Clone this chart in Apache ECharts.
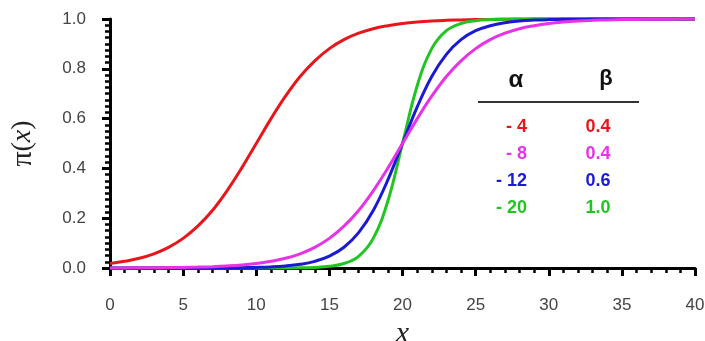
<!DOCTYPE html>
<html>
<head>
<meta charset="utf-8">
<script src="https://cdn.jsdelivr.net/npm/echarts@6/dist/echarts.min.js"></script>
<style>html,body{margin:0;padding:0;background:#fff}#c{width:705px;height:341px}</style>
</head>
<body>
<div id="c"></div>
<script>
var xValues = [0,1,2,3,4,5,6,7,8,9,10,11,12,13,14,15,16,17,18,19,20,21,22,23,24,25,26,27,28,29,30,31,32,33,34,35,36,37,38,39,40];
var redValues = [0.018,0.027,0.039,0.057,0.083,0.119,0.168,0.231,0.310,0.401,0.5,0.599,0.690,0.769,0.832,0.881,0.917,0.943,0.961,0.973,0.982,0.988,0.992,0.9945,0.9963,0.9975,0.9983,0.9989,0.9992,0.9995,0.9997,0.9998,0.9999,0.9999,1,1,1,1,1,1,1];
var magentaValues = [0.0003,0.0005,0.0007,0.0011,0.0017,0.0025,0.0037,0.0055,0.0082,0.012,0.018,0.027,0.039,0.057,0.083,0.119,0.168,0.231,0.310,0.401,0.5,0.599,0.690,0.769,0.832,0.881,0.917,0.943,0.961,0.973,0.982,0.988,0.992,0.9945,0.9963,0.9975,0.9983,0.9989,0.9992,0.9995,0.9997];
var blueValues = [0,0,0,0,0,0.0001,0.0002,0.0004,0.0007,0.0014,0.0025,0.0045,0.0082,0.0148,0.0266,0.0474,0.0832,0.142,0.231,0.354,0.5,0.646,0.769,0.858,0.917,0.953,0.973,0.985,0.992,0.9955,0.9975,0.9986,0.9993,0.9996,0.9998,0.9999,1,1,1,1,1];
var greenValues = [0,0,0,0,0,0,0,0,0,0,0,0.0001,0.0003,0.0009,0.0025,0.0067,0.018,0.047,0.119,0.269,0.5,0.731,0.881,0.953,0.982,0.9933,0.9975,0.9991,0.9997,0.9999,1,1,1,1,1,1,1,1,1,1,1];
var tableAlpha = ['- 4','- 8','- 12','- 20'];
var tableBeta = ['0.4','0.4','0.6','1.0'];
var colors = ['#e8161b','#e633e6','#1a1ad6','#22c422'];

function pairs(v){ return xValues.map(function(x,i){ return [x, v[i]]; }); }

var chart = echarts.init(document.getElementById('c'), null, {renderer:'canvas'});
var graphics = [
  {type:'text', z:10, style:{text:'α', x:516, y:80, font:'bold 24px "Liberation Sans", Arial', fill:'#111', align:'center', verticalAlign:'middle'}},
  {type:'text', z:10, style:{text:'β', x:606, y:79, font:'bold 22px "Liberation Sans", Arial', fill:'#111', align:'center', verticalAlign:'middle'}},
  {type:'line', z:10, shape:{x1:478, y1:102, x2:639, y2:102}, style:{stroke:'#333', lineWidth:2}}
];
var rowY = [127,154,181,208];
for (var i=0;i<4;i++){
  graphics.push({type:'text', z:10, style:{text:tableAlpha[i], x:527, y:rowY[i], font:'bold 18px "Liberation Sans", Arial', fill:colors[i], align:'right', verticalAlign:'middle'}});
  graphics.push({type:'text', z:10, style:{text:tableBeta[i], x:598, y:rowY[i], font:'bold 18px "Liberation Sans", Arial', fill:colors[i], align:'center', verticalAlign:'middle'}});
}
var series = [
  {name:'red', data:pairs(redValues), color:colors[0]},
  {name:'green', data:pairs(greenValues), color:colors[3]},
  {name:'blue', data:pairs(blueValues), color:colors[2]},
  {name:'magenta', data:pairs(magentaValues), color:colors[1]}
].map(function(s){
  return {type:'line', name:s.name, data:s.data, smooth:0.4, showSymbol:false, symbol:'none',
    lineStyle:{color:s.color, width:3}, itemStyle:{color:s.color}, clip:false, animation:false};
});
chart.setOption({
  animation:false,
  grid:{left:110, right:10, top:19, bottom:73, containLabel:false, outerBoundsMode:'none'},
  xAxis:{type:'value', min:0, max:40, interval:5, offset:7,
    name:'x', nameLocation:'middle', nameGap:38,
    nameTextStyle:{fontFamily:'"Liberation Serif", "DejaVu Serif", serif', fontStyle:'italic', fontSize:30, color:'#222'},
    axisLine:{show:true, lineStyle:{color:'#000', width:3}},
    axisTick:{show:true, inside:false, length:8, lineStyle:{color:'#000', width:3}},
    minorTick:{show:true, splitNumber:5, length:5, lineStyle:{color:'#000', width:2.5}},
    axisLabel:{fontFamily:'"Liberation Sans", Arial', fontSize:17, color:'#444', margin:22},
    splitLine:{show:false}},
  yAxis:{type:'value', min:0, max:1, interval:0.2, offset:6,
    name:'{p|π}{n|(}{i|x}{n|)}', nameLocation:'middle', nameGap:66, nameRotate:90,
    nameTextStyle:{color:'#222', rich:{
      p:{fontFamily:'"Liberation Serif", serif', fontSize:30, color:'#222'},
      n:{fontFamily:'"Liberation Serif", serif', fontSize:28, color:'#222'},
      i:{fontFamily:'"Liberation Serif", serif', fontStyle:'italic', fontSize:28, color:'#222'}}},
    axisLine:{show:true, lineStyle:{color:'#000', width:3}},
    axisTick:{show:true, inside:false, length:8, lineStyle:{color:'#000', width:3}},
    minorTick:{show:true, splitNumber:8, length:5, lineStyle:{color:'#000', width:2.5}},
    axisLabel:{fontFamily:'"Liberation Sans", Arial', fontSize:17, color:'#444', margin:18,
      formatter:function(v){ return v.toFixed(1); }},
    splitLine:{show:false}},
  graphic:graphics,
  series:series
});
</script>
</body>
</html>
